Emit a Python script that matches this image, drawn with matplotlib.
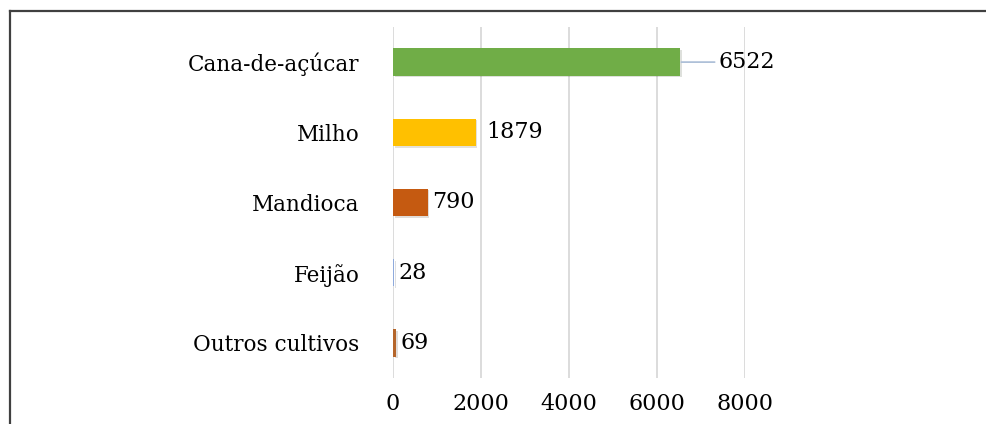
import numpy as np
import matplotlib
matplotlib.use("Agg")
import matplotlib.pyplot as plt
import matplotlib.patheffects as pe
from matplotlib.lines import Line2D

culturas = ["Cana-de-açúcar", "Milho", "Mandioca", "Feijão", "Outros cultivos"]
valores = [6522, 1879, 790, 28, 69]
cores = ["#70AD47", "#FFC000", "#C55A11", "#8FAADC", "#B5652A"]
ticks_x = [0, 2000, 4000, 6000, 8000]

plt.rcParams["font.family"] = ["DejaVu Serif"]

fig = plt.figure(figsize=(9.86, 4.24), dpi=100)
ax = fig.add_axes([393 / 986, 1 - 378 / 424, (745 - 393) / 986, (378 - 27) / 424])

y = np.arange(len(culturas))
bars = ax.barh(y, valores, height=0.39, color=cores, zorder=3,
               path_effects=[pe.SimplePatchShadow(offset=(1.2, -1.2), alpha=0.15),
                             pe.Normal()])
ax.set_ylim(len(culturas) - 0.5, -0.5)
ax.set_xlim(0, 8000)
ax.set_xticks(ticks_x)
ax.set_yticks(y)
ax.set_yticklabels(culturas, fontsize=15.5)
ax.tick_params(axis="x", labelsize=16, length=0, pad=11)
ax.tick_params(axis="y", length=0, pad=24)
ax.grid(True, axis="x", color="#D9D9D9", lw=1.3, zorder=0)
for s in ax.spines.values():
    s.set_visible(False)

# rotulos de dados
for i, v in enumerate(valores):
    if i == 0:
        ax.annotate(f"{v}", xy=(v, i), xytext=(28, 0), textcoords="offset points",
                    va="center", ha="left", fontsize=16,
                    arrowprops=dict(arrowstyle="-", color="#A9BCD6", lw=1.2,
                                    shrinkA=1, shrinkB=1))
    else:
        off = 8 if v > 1000 else 3
        ax.annotate(f"{v}", xy=(v, i), xytext=(off, 0), textcoords="offset points",
                    va="center", ha="left", fontsize=16)

# moldura da figura
fig.add_artist(Line2D([10 / 986, 10 / 986], [0, 1 - 11 / 424], color="#404040", lw=1.6))
fig.add_artist(Line2D([10 / 986, 1], [1 - 11 / 424, 1 - 11 / 424], color="#404040", lw=1.6))

fig.savefig("out.png", dpi=100)
